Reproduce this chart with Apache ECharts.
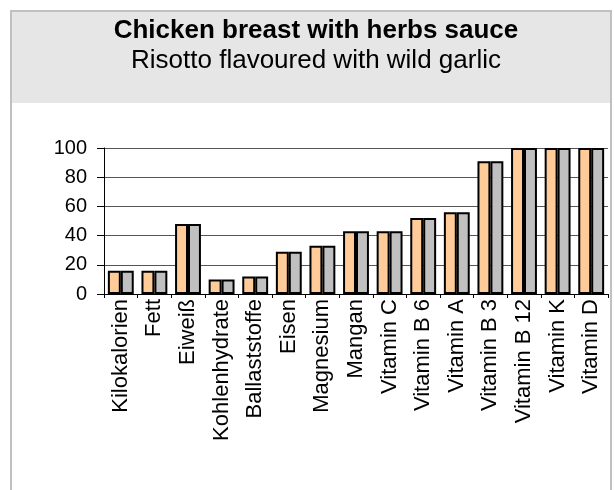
<!DOCTYPE html>
<html>
<head>
<meta charset="utf-8">
<script src="https://cdn.jsdelivr.net/npm/echarts@6/dist/echarts.min.js"></script>
<style>
html,body{margin:0;padding:0;background:#fff;}
#c{width:614px;height:490px;}
</style>
</head>
<body>
<div id="c"></div>
<script>
const categories = ["Kilokalorien","Fett","Eiweiß","Kohlenhydrate","Ballaststoffe","Eisen","Magnesium","Mangan","Vitamin C","Vitamin B 6","Vitamin A","Vitamin B 3","Vitamin B 12","Vitamin K","Vitamin D"];
const seriesA = [16,16,48,10,12,29,33,43,43,52,56,91,100,100,100];
const seriesB = [16,16,48,10,12,29,33,43,43,52,56,91,100,100,100];
const yTicks = [0,20,40,60,80,100];
const titleText = "Chicken breast with herbs sauce";
const subtitleText = "Risotto flavoured with wild garlic";

const chart = echarts.init(document.getElementById('c'), null, {renderer:'canvas'});
const font = 'Arial, "Liberation Sans", sans-serif';
chart.setOption({
  animation:false,
  backgroundColor:'#fff',
  graphic:[
    {type:'rect', z:0, shape:{x:11,y:11,width:600,height:92}, style:{fill:'#E6E6E6'}},
    {type:'rect', z:1, shape:{x:11,y:11,width:600,height:500}, style:{fill:'none',stroke:'#C0C0C0',lineWidth:2}}
  ],
  title:[
    {text:titleText, left:311, top:13, textAlign:'center',
     textStyle:{fontFamily:font,fontSize:26,fontWeight:'bold',color:'#000'}},
    {text:subtitleText, left:311, top:43, textAlign:'center',
     textStyle:{fontFamily:font,fontSize:26,fontWeight:'normal',color:'#000'}}
  ],
  grid:{left:104,right:6,top:148,bottom:196,containLabel:false},
  xAxis:{
    type:'category', data:categories,
    axisLine:{show:true,lineStyle:{color:'#000',width:1}},
    axisTick:{show:true,length:4,alignWithLabel:false,lineStyle:{color:'#000'}},
    axisLabel:{rotate:90,fontFamily:font,fontSize:22,color:'#000',margin:5,interval:0}
  },
  yAxis:{
    type:'value', min:0, max:100, interval:20,
    axisLine:{show:true,lineStyle:{color:'#000',width:1}},
    axisTick:{show:true,length:7,lineStyle:{color:'#000'}},
    axisLabel:{fontFamily:font,fontSize:20,color:'#000',margin:17,
      formatter:function(v){return yTicks.indexOf(v)>=0?String(v):'';}},
    splitLine:{show:true,lineStyle:{color:'#555',width:1}}
  },
  series:[
    {type:'bar', data:seriesA, barGap:'0%', barCategoryGap:'23%',
     itemStyle:{color:'#FFCC99',borderColor:'#000',borderWidth:2}},
    {type:'bar', data:seriesB,
     itemStyle:{color:'#C0C0C0',borderColor:'#000',borderWidth:2}}
  ]
});
</script>
</body>
</html>
